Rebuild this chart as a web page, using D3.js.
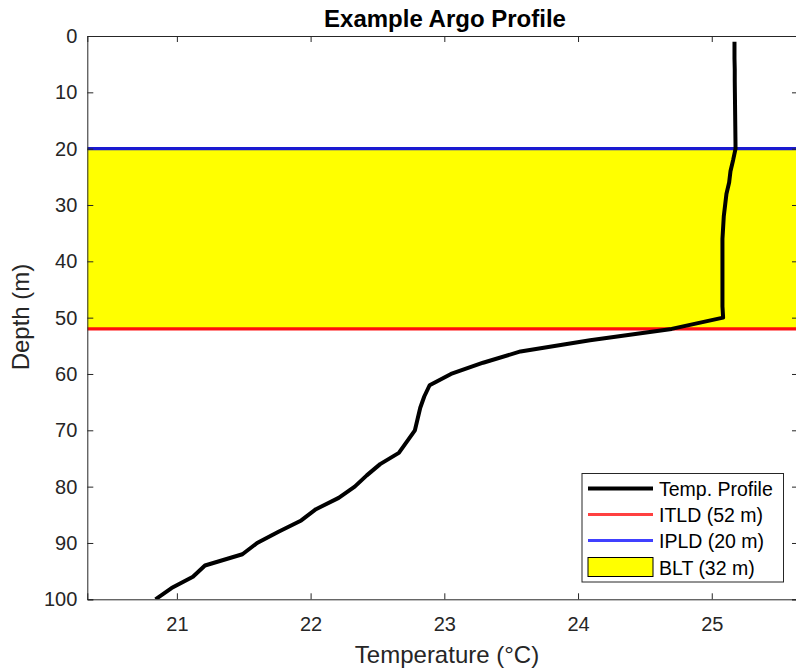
<!DOCTYPE html>
<html>
<head>
<meta charset="utf-8">
<script src="https://cdn.jsdelivr.net/npm/d3@7"></script>
<style>
  html, body { margin: 0; padding: 0; background: #fff; overflow: hidden; }
  svg { display: block; font-family: "Liberation Sans", Arial, Helvetica, sans-serif; }
</style>
</head>
<body>
<svg id="chart" width="796" height="671"></svg>
<script>
// Argo float temperature profile (depth in m, temperature in °C)
const depths = [1, 2, 4, 6, 8, 10, 12, 14, 16, 18, 20, 22, 24, 26, 28, 30, 32, 34, 36, 38, 40,
  42, 44, 46, 48, 50, 52, 54, 56, 58, 60, 62, 64, 66, 68, 70, 72, 74, 76, 78, 80,
  82, 84, 86, 88, 90, 92, 94, 96, 98, 100];
const temps = [25.17, 25.17, 25.17, 25.172, 25.172, 25.173, 25.174, 25.175, 25.176, 25.177, 25.178,
  25.16, 25.14, 25.13, 25.11, 25.10, 25.09, 25.085, 25.08, 25.08, 25.08,
  25.08, 25.08, 25.08, 25.08, 25.085, 24.70, 24.09, 23.57, 23.29, 23.05,
  22.89, 22.85, 22.82, 22.80, 22.78, 22.72, 22.66, 22.52, 22.42, 22.33,
  22.21, 22.04, 21.93, 21.76, 21.60, 21.49, 21.21, 21.12, 20.96, 20.84];

// Layer depths
const itld = 52;   // isothermal layer depth
const ipld = 20;   // isopycnal layer depth

const xTicks = [21, 22, 23, 24, 25];
const yTicks = [0, 10, 20, 30, 40, 50, 60, 70, 80, 90, 100];

const legendLabels = ["Temp. Profile", `ITLD (${itld} m)`, `IPLD (${ipld} m)`, `BLT (${itld - ipld} m)`];

const svg = d3.select("#chart");
const pLeft = 87.3, pRight = 798, pTop = 36, pBottom = 599.3;

const x = d3.scaleLinear().domain([20.33, 25.645]).range([pLeft, pRight]);
const y = d3.scaleLinear().domain([0, 100]).range([pTop, pBottom]);

const axisColor = "#262626";
const plot = svg.append("g");

// clip region for plotted marks
svg.append("clipPath").attr("id", "plotClip")
  .append("rect").attr("x", pLeft).attr("y", pTop).attr("width", pRight - pLeft).attr("height", pBottom - pTop);
const marks = plot.append("g").attr("clip-path", "url(#plotClip)");

// barrier layer band
marks.append("rect")
  .attr("x", pLeft).attr("width", pRight - pLeft)
  .attr("y", y(ipld)).attr("height", y(itld) - y(ipld))
  .attr("fill", "#ffff00");

// layer depth lines
marks.append("line")
  .attr("x1", pLeft).attr("x2", pRight).attr("y1", y(ipld)).attr("y2", y(ipld))
  .attr("stroke", "#1a1ad0").attr("stroke-width", 3.2);
marks.append("line")
  .attr("x1", pLeft).attr("x2", pRight).attr("y1", y(itld)).attr("y2", y(itld))
  .attr("stroke", "#ff1010").attr("stroke-width", 3.2);

// temperature profile
const profile = depths.map((d, i) => [temps[i], d]);
marks.append("path")
  .datum(profile)
  .attr("fill", "none")
  .attr("stroke", "#000")
  .attr("stroke-width", 4)
  .attr("stroke-linejoin", "round")
  .attr("d", d3.line().x(d => x(d[0])).y(d => y(d[1])));

// axes
const xAxisB = d3.axisBottom(x).tickValues(xTicks).tickSize(-6).tickPadding(18).tickFormat(d3.format("d"));
const xAxisT = d3.axisTop(x).tickValues(xTicks).tickSize(-6).tickFormat("");
const yAxisL = d3.axisLeft(y).tickValues(yTicks).tickSize(-6).tickPadding(10).tickFormat(d3.format("d"));
const yAxisR = d3.axisRight(y).tickValues(yTicks).tickSize(-6).tickFormat("");

function styleAxis(g) {
  g.selectAll("path.domain").attr("stroke", axisColor).attr("stroke-width", 1);
  g.selectAll(".tick line").attr("stroke", axisColor);
  g.selectAll(".tick text").attr("fill", axisColor).attr("font-size", 20)
    .attr("font-family", "'Liberation Sans', Arial, sans-serif");
}

svg.append("g").attr("transform", `translate(0,${pBottom})`).call(xAxisB).call(styleAxis);
svg.append("g").attr("transform", `translate(0,${pTop})`).call(xAxisT).call(styleAxis);
svg.append("g").attr("transform", `translate(${pLeft},0)`).call(yAxisL).call(styleAxis);
svg.append("g").attr("transform", `translate(${pRight},0)`).call(yAxisR).call(styleAxis);

// title and axis labels
svg.append("text")
  .attr("x", 445).attr("y", 27)
  .attr("text-anchor", "middle")
  .attr("font-size", 24).attr("font-weight", "bold").attr("fill", "#000")
  .text("Example Argo Profile");

svg.append("text")
  .attr("x", 447).attr("y", 663)
  .attr("text-anchor", "middle")
  .attr("font-size", 24).attr("fill", axisColor)
  .text("Temperature (°C)");

svg.append("text")
  .attr("transform", `translate(29,317) rotate(-90)`)
  .attr("text-anchor", "middle")
  .attr("font-size", 24).attr("fill", axisColor)
  .text("Depth (m)");

// legend
const lg = svg.append("g");
lg.append("rect")
  .attr("x", 582).attr("y", 473.5).attr("width", 201.5).attr("height", 108.5)
  .attr("fill", "#fff").attr("stroke", axisColor).attr("stroke-width", 1);

const rowY = [488.5, 514.5, 540.5, 567];
const legendStyles = [
  { type: "line", color: "#000" },
  { type: "line", color: "#ff4040" },
  { type: "line", color: "#4040ff" },
  { type: "patch", color: "#ffff00" }
];
legendLabels.forEach((label, i) => {
  const s = legendStyles[i];
  if (s.type === "line") {
    lg.append("line")
      .attr("x1", 588).attr("x2", 653).attr("y1", rowY[i]).attr("y2", rowY[i])
      .attr("stroke", s.color).attr("stroke-width", i === 0 ? 4 : 3);
  } else {
    lg.append("rect")
      .attr("x", 588).attr("y", rowY[i] - 9.5).attr("width", 65).attr("height", 19)
      .attr("fill", s.color).attr("stroke", "#000").attr("stroke-width", 1);
  }
  lg.append("text")
    .attr("x", 659).attr("y", rowY[i] + 7.5)
    .attr("font-size", 19.5).attr("fill", "#000")
    .text(label);
});
</script>
</body>
</html>
